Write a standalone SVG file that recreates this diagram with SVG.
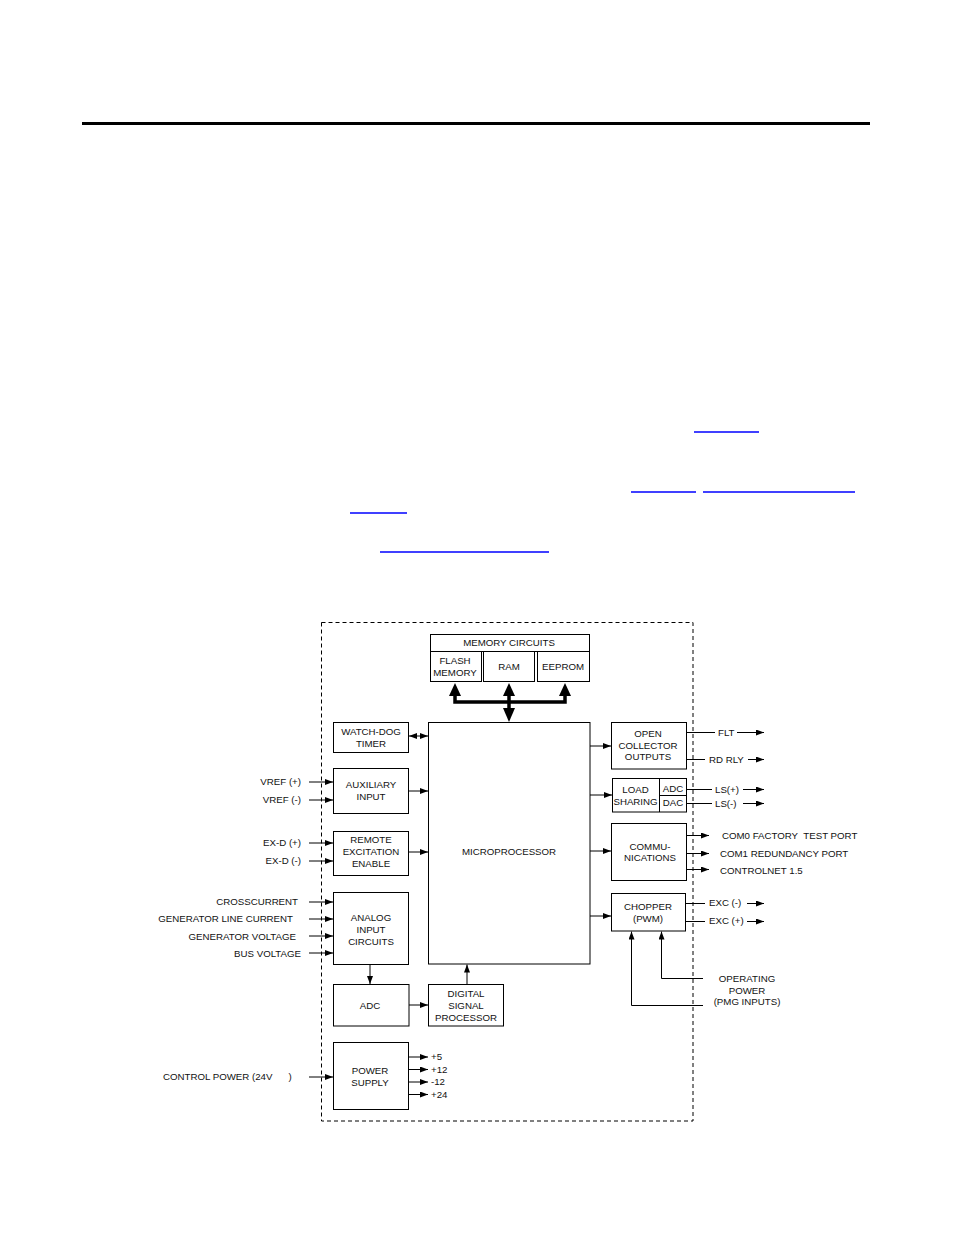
<svg xmlns="http://www.w3.org/2000/svg" width="954" height="1235" viewBox="0 0 954 1235">
<defs>
<marker id="ah" viewBox="0 0 8 6" refX="8" refY="3" markerWidth="8" markerHeight="6" markerUnits="userSpaceOnUse" orient="auto-start-reverse">
<path d="M0,0 L8,3 L0,6 z" fill="#000"/>
</marker>
</defs>
<style>
.b{fill:#fff;stroke:#000;stroke-width:1}
.t{font-family:"Liberation Sans",Arial,Helvetica,sans-serif;font-size:9.7px;fill:#111}
.c{text-anchor:middle}
.e{text-anchor:end}
.l{fill:none;stroke:#000;stroke-width:1}
.a{marker-end:url(#ah)}
.lk{stroke:#0000ff;stroke-width:1.3}
</style>
<rect width="954" height="1235" fill="#fff"/>
<rect x="82" y="122" width="788" height="3" fill="#000"/>
<g id="links">
<line class="lk" x1="694" y1="432" x2="759" y2="432"/>
<line class="lk" x1="631" y1="492" x2="696" y2="492"/>
<line class="lk" x1="703" y1="492" x2="855" y2="492"/>
<line class="lk" x1="350" y1="513" x2="407" y2="513"/>
<line class="lk" x1="380" y1="552" x2="549" y2="552"/>
</g>
<rect id="border" x="321.5" y="622.5" width="371.5" height="498.5" fill="none" stroke="#000" stroke-width="1" stroke-dasharray="4 3"/>

<g id="memory">
<rect class="b" x="430.5" y="634.5" width="159" height="17"/>
<text class="t c" x="509" y="646">MEMORY CIRCUITS</text>
<rect class="b" x="430.5" y="651.5" width="51" height="30"/>
<text class="t c" x="455" y="664">FLASH</text>
<text class="t c" x="455" y="676">MEMORY</text>
<rect class="b" x="483.5" y="651.5" width="51" height="30"/>
<text class="t c" x="509" y="670">RAM</text>
<rect class="b" x="537.5" y="651.5" width="52" height="30"/>
<text class="t c" x="563" y="670">EEPROM</text>
</g>

<g id="microprocessor">
<rect class="b" x="428.5" y="722.5" width="161.5" height="241.5"/>
<text class="t c" x="509" y="855">MICROPROCESSOR</text>
</g>

<g id="watchdog">
<rect class="b" x="333.5" y="722.5" width="75" height="30"/>
<text class="t c" x="371" y="735">WATCH-DOG</text>
<text class="t c" x="371" y="747">TIMER</text>
</g>

<g id="auxiliary">
<rect class="b" x="333.5" y="768.5" width="75" height="45"/>
<text class="t c" x="371" y="788">AUXILIARY</text>
<text class="t c" x="371" y="800">INPUT</text>
</g>

<g id="remote">
<rect class="b" x="333.5" y="831.5" width="75" height="44"/>
<text class="t c" x="371" y="843">REMOTE</text>
<text class="t c" x="371" y="855">EXCITATION</text>
<text class="t c" x="371" y="867">ENABLE</text>
</g>

<g id="analog">
<rect class="b" x="333.5" y="892.5" width="75" height="72"/>
<text class="t c" x="371" y="921">ANALOG</text>
<text class="t c" x="371" y="933">INPUT</text>
<text class="t c" x="371" y="945">CIRCUITS</text>
</g>

<g id="adc">
<rect class="b" x="333.5" y="984.5" width="75.5" height="41.5"/>
<text class="t c" x="370" y="1009">ADC</text>
</g>

<g id="dsp">
<rect class="b" x="428.5" y="984.5" width="75" height="41.5"/>
<text class="t c" x="466" y="997">DIGITAL</text>
<text class="t c" x="466" y="1009">SIGNAL</text>
<text class="t c" x="466" y="1021">PROCESSOR</text>
</g>

<g id="powersupply">
<rect class="b" x="333.5" y="1042.5" width="75" height="67"/>
<text class="t c" x="370" y="1074">POWER</text>
<text class="t c" x="370" y="1086">SUPPLY</text>
</g>

<g id="opencollector">
<rect class="b" x="611.5" y="722.5" width="75" height="46.5"/>
<text class="t c" x="648" y="737">OPEN</text>
<text class="t c" x="648" y="749">COLLECTOR</text>
<text class="t c" x="648" y="760">OUTPUTS</text>
</g>

<g id="loadsharing">
<rect class="b" x="612.5" y="778.5" width="74" height="33.5"/>
<line class="l" x1="659.5" y1="778.5" x2="659.5" y2="812"/>
<line class="l" x1="659.5" y1="795.5" x2="686.5" y2="795.5"/>
<text class="t c" x="635.5" y="793">LOAD</text>
<text class="t c" x="635.5" y="805">SHARING</text>
<text class="t c" x="673" y="792">ADC</text>
<text class="t c" x="673" y="806">DAC</text>
</g>

<g id="communications">
<rect class="b" x="611.5" y="823.5" width="75" height="57"/>
<text class="t c" x="650" y="850">COMMU-</text>
<text class="t c" x="650" y="861">NICATIONS</text>
</g>

<g id="chopper">
<rect class="b" x="611.5" y="893.5" width="74" height="37.5"/>
<text class="t c" x="648" y="910">CHOPPER</text>
<text class="t c" x="648" y="922">(PWM)</text>
</g>

<g id="labels">
<text class="t e" x="301" y="785">VREF (+)</text>
<text class="t e" x="301" y="803">VREF (-)</text>
<text class="t e" x="301" y="846">EX-D (+)</text>
<text class="t e" x="301" y="864">EX-D (-)</text>
<text class="t e" x="298" y="905">CROSSCURRENT</text>
<text class="t e" x="293" y="922">GENERATOR LINE CURRENT</text>
<text class="t e" x="296" y="940">GENERATOR VOLTAGE</text>
<text class="t e" x="301" y="957">BUS VOLTAGE</text>
<text class="t" x="163" y="1080" xml:space="preserve">CONTROL POWER (24V      )</text>
<text class="t" x="718" y="736">FLT</text>
<text class="t" x="709" y="763">RD RLY</text>
<text class="t" x="715" y="793">LS(+)</text>
<text class="t" x="715" y="807">LS(-)</text>
<text class="t" x="722" y="839">COM0 FACTORY&#160; TEST PORT</text>
<text class="t" x="720" y="857">COM1 REDUNDANCY PORT</text>
<text class="t" x="720" y="874">CONTROLNET 1.5</text>
<text class="t" x="709" y="906">EXC (-)</text>
<text class="t" x="709" y="924">EXC (+)</text>
<text class="t c" x="747" y="982">OPERATING</text>
<text class="t c" x="747" y="994">POWER</text>
<text class="t c" x="747" y="1005">(PMG INPUTS)</text>
<text class="t" x="431" y="1060">+5</text>
<text class="t" x="431" y="1072.5">+12</text>
<text class="t" x="431" y="1085">-12</text>
<text class="t" x="431" y="1097.5">+24</text>
</g>

<g id="connectors">
<polyline points="455,695 455,702 565,702 565,695" fill="none" stroke="#000" stroke-width="3.5"/>
<line x1="509" y1="695" x2="509" y2="709" stroke="#000" stroke-width="3.5"/>
<polygon points="455,683 449,696 461,696" fill="#000"/>
<polygon points="509,683 503,696 515,696" fill="#000"/>
<polygon points="565,683 559,696 571,696" fill="#000"/>
<polygon points="509,722 503,708 515,708" fill="#000"/>
<line class="l" x1="409" y1="736" x2="428" y2="736" marker-start="url(#ah)" marker-end="url(#ah)"/>
<line class="l a" x1="408.5" y1="791" x2="428" y2="791"/>
<line class="l a" x1="408.5" y1="852" x2="428" y2="852"/>
<line class="l a" x1="370" y1="965" x2="370" y2="984"/>
<line class="l a" x1="409" y1="1005" x2="428" y2="1005"/>
<line class="l a" x1="467" y1="984" x2="467" y2="964.5"/>
<line class="l a" x1="309" y1="782" x2="333" y2="782"/>
<line class="l a" x1="309" y1="800" x2="333" y2="800"/>
<line class="l a" x1="309" y1="843" x2="333" y2="843"/>
<line class="l a" x1="309" y1="861" x2="333" y2="861"/>
<line class="l a" x1="309" y1="902" x2="333" y2="902"/>
<line class="l a" x1="309" y1="919" x2="333" y2="919"/>
<line class="l a" x1="309" y1="936" x2="333" y2="936"/>
<line class="l a" x1="309" y1="953" x2="333" y2="953"/>
<line class="l a" x1="309" y1="1077" x2="333" y2="1077"/>
<line class="l a" x1="408.5" y1="1057" x2="428" y2="1057"/>
<line class="l a" x1="408.5" y1="1069.5" x2="428" y2="1069.5"/>
<line class="l a" x1="408.5" y1="1082" x2="428" y2="1082"/>
<line class="l a" x1="408.5" y1="1094.5" x2="428" y2="1094.5"/>
<line class="l a" x1="590" y1="746" x2="611" y2="746"/>
<line class="l a" x1="590" y1="795" x2="612" y2="795"/>
<line class="l a" x1="590" y1="851" x2="611" y2="851"/>
<line class="l a" x1="590" y1="916" x2="611" y2="916"/>
<line class="l" x1="686.5" y1="732.5" x2="715" y2="732.5"/>
<line class="l a" x1="737" y1="732.5" x2="764" y2="732.5"/>
<line class="l" x1="686.5" y1="759.5" x2="705" y2="759.5"/>
<line class="l a" x1="748" y1="759.5" x2="764" y2="759.5"/>
<line class="l" x1="686.5" y1="789.5" x2="712" y2="789.5"/>
<line class="l a" x1="743" y1="789.5" x2="764" y2="789.5"/>
<line class="l" x1="686.5" y1="803.5" x2="712" y2="803.5"/>
<line class="l a" x1="743" y1="803.5" x2="764" y2="803.5"/>
<line class="l a" x1="686.5" y1="835.5" x2="709" y2="835.5"/>
<line class="l a" x1="686.5" y1="853.5" x2="709" y2="853.5"/>
<line class="l a" x1="686.5" y1="869.5" x2="709" y2="869.5"/>
<line class="l" x1="685.5" y1="903.5" x2="705" y2="903.5"/>
<line class="l a" x1="747" y1="903.5" x2="764" y2="903.5"/>
<line class="l" x1="685.5" y1="921.5" x2="705" y2="921.5"/>
<line class="l a" x1="747" y1="921.5" x2="764" y2="921.5"/>
<polyline class="l a" points="703,1005.5 631.5,1005.5 631.5,931.5"/>
<polyline class="l a" points="703,978.5 661.5,978.5 661.5,931.5"/>
</g>
</svg>
